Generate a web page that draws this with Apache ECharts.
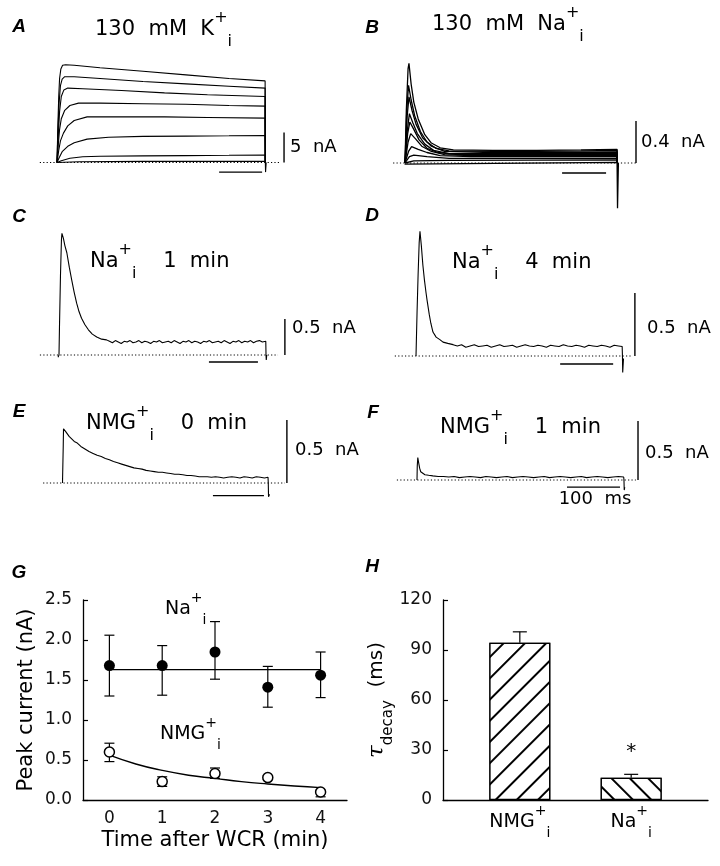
<!DOCTYPE html>
<html><head><meta charset="utf-8">
<script src="https://cdn.jsdelivr.net/npm/echarts@6/dist/echarts.min.js"></script>
<style>html,body{margin:0;padding:0;background:#fff}#c{width:720px;height:866px}</style>
</head><body><div id="c"></div><script>
const FONT = "'DejaVu Sans', 'Liberation Sans', sans-serif";

// ---------------- DATA (time in ms, current in nA) ----------------
// Panel A: 130 mM K+i, family of outward currents
const traceA1 = [[0,0],[2,6],[4,11],[6,14],[9,15.6],[13,16.2],[20,16.3],[40,16.2],[100,15.8],[200,15.2],[300,14.6],[400,14.0],[484,13.6],[484.5,0],[485,-1.6],[486.5,0]];
const traceA2 = [[0,0],[2,5],[5,10],[8,12.8],[12,13.9],[18,14.3],[40,14.3],[100,14.0],[200,13.5],[300,13.1],[400,12.7],[484,12.4],[484.5,0]];
const traceA3 = [[0,0],[3,4.5],[6,8.5],[10,11],[16,12.1],[25,12.4],[60,12.3],[150,12.0],[250,11.6],[350,11.3],[484,11.0],[484.5,0]];
const traceA4 = [[0,0],[3,3],[6,5.5],[10,7.3],[18,8.7],[30,9.5],[50,9.9],[100,9.9],[200,9.8],[300,9.7],[400,9.5],[484,9.4],[484.5,0]];
const traceA5 = [[0,0],[4,2],[8,3.6],[15,4.9],[25,6.1],[40,7.0],[70,7.6],[150,7.6],[250,7.6],[350,7.5],[484,7.4],[484.5,0]];
const traceA6 = [[0,0],[5,0.8],[12,1.8],[25,2.7],[40,3.3],[70,3.9],[120,4.2],[200,4.35],[300,4.4],[400,4.45],[484,4.5],[484.5,0]];
const traceA7 = [[0,0],[10,0.3],[30,0.7],[60,0.95],[100,1.05],[200,1.1],[300,1.15],[400,1.2],[484,1.25],[484.5,0]];
const traceA8 = [[0,0],[50,0.12],[200,0.18],[484,0.2],[484.5,0]];
const baselineA = [[-40,0],[519,0]];
const scaleVA = [[528,0],[528,5]];
const scaleHA = [[377,-1.6],[477,-1.6]];

// Panel B: 130 mM Na+i, family of transient currents
const traceB1 = [[0,0],[3,0.5],[7,0.9],[9,0.95],[14,0.75],[20,0.58],[30,0.42],[45,0.27],[60,0.19],[80,0.145],[110,0.125],[200,0.12],[300,0.12],[400,0.125],[482,0.13],[482.5,0]];
const traceB2 = [[0,0],[4,0.5],[8,0.74],[14,0.6],[22,0.45],[35,0.3],[50,0.2],[70,0.14],[100,0.115],[200,0.11],[300,0.11],[400,0.115],[482,0.12],[482.5,0]];
const traceB3 = [[0,0],[5,0.45],[9,0.63],[16,0.5],[25,0.37],[40,0.24],[60,0.16],[90,0.11],[200,0.1],[482,0.105],[482.5,0]];
const traceB4 = [[0,0],[5,0.3],[10,0.47],[18,0.38],[28,0.28],[45,0.18],[65,0.12],[100,0.09],[200,0.09],[482,0.095],[482.5,0]];
const traceB5 = [[0,0],[6,0.28],[11,0.39],[20,0.32],[32,0.22],[50,0.14],[75,0.1],[120,0.08],[482,0.085],[482.5,0]];
const traceB6 = [[0,0],[7,0.2],[13,0.28],[24,0.23],[38,0.16],[60,0.11],[90,0.08],[150,0.07],[482,0.075],[482.5,0]];
const traceB7 = [[0,0],[8,0.11],[15,0.155],[30,0.13],[50,0.1],[80,0.07],[150,0.06],[482,0.06],[482.5,0]];
const traceB8 = [[0,0],[10,0.06],[20,0.076],[50,0.06],[100,0.045],[482,0.045],[482.5,0]];
const traceB9 = [[0,0],[20,0.02],[100,0.025],[482,0.03],[482.5,0]];
const traceB10 = [[-1,-0.01],[0,0],[482,0.005],[482.5,0],[483,-0.43],[484.5,-0.43],[485,0]];
const baselineB = [[-27,0],[527,0]];
const scaleVB = [[525,0],[525,0.4]];
const scaleHB = [[357,-0.095],[457,-0.095]];

// Panel C: Na+i, 1 min
const traceC = [[-2,-0.03],[0,0],[1,0.4],[3,1.1],[5,1.6],[6,1.69],[9,1.62],[12,1.52],[16,1.42],[21,1.22],[26,1.04],[31,0.87],[36,0.72],[41,0.6],[46,0.51],[53,0.42],[60,0.35],[68,0.29],[77,0.25],[87,0.22],[97,0.21],[103,0.19],[109,0.17],[115,0.2],[121,0.18],[127,0.16],[133,0.19],[139,0.18],[145,0.2],[151,0.17],[157,0.18],[163,0.2],[169,0.17],[175,0.19],[181,0.18],[187,0.16],[193,0.19],[199,0.18],[205,0.2],[211,0.17],[217,0.18],[223,0.19],[229,0.17],[235,0.2],[241,0.18],[247,0.16],[253,0.19],[259,0.18],[265,0.2],[271,0.17],[277,0.19],[283,0.18],[289,0.16],[295,0.19],[301,0.18],[307,0.2],[313,0.17],[319,0.18],[325,0.19],[331,0.17],[337,0.2],[343,0.18],[349,0.16],[355,0.19],[361,0.18],[367,0.2],[373,0.17],[379,0.19],[385,0.18],[391,0.2],[397,0.17],[403,0.19],[409,0.2],[415,0.18],[422,0.19],[422.5,0],[423,-0.07],[424,0]];
const baselineC = [[-39,0],[447,0]];
const scaleVC = [[461,0],[461,0.5]];
const scaleHC = [[306,-0.097],[406,-0.097]];

// Panel D: Na+i, 4 min
const traceD = [[0,0],[2,0.35],[4,0.65],[6,0.9],[7.5,0.99],[10,0.88],[13,0.72],[16,0.6],[19,0.5],[21,0.44],[25,0.33],[28,0.26],[32,0.19],[38,0.15],[45,0.13],[51,0.11],[60,0.1],[70,0.09],[78,0.08],[86,0.09],[94,0.07],[102,0.08],[110,0.09],[118,0.075],[126,0.08],[134,0.085],[142,0.07],[150,0.08],[158,0.09],[166,0.075],[174,0.08],[182,0.085],[190,0.07],[198,0.08],[206,0.09],[214,0.08],[222,0.075],[230,0.085],[238,0.08],[246,0.07],[254,0.085],[262,0.08],[270,0.075],[278,0.09],[286,0.08],[294,0.075],[302,0.085],[310,0.08],[318,0.07],[326,0.085],[334,0.08],[342,0.075],[350,0.085],[358,0.08],[366,0.07],[374,0.085],[382,0.08],[389,0.075],[389.5,0],[390,-0.13],[391.5,-0.02]];
const baselineD = [[-40,0],[408,0]];
const scaleVD = [[413,0],[413,0.5]];
const scaleHD = [[272,-0.063],[372,-0.063]];

// Panel E: NMG+i, 0 min
const traceE = [[-1,0],[0,0],[0.5,0.3],[1,0.43],[3,0.43],[5,0.41],[8,0.4],[12,0.37],[17,0.35],[22,0.33],[27,0.32],[35,0.29],[43,0.27],[51,0.25],[59,0.235],[67,0.22],[75,0.21],[83,0.195],[91,0.185],[99,0.17],[107,0.16],[115,0.15],[123,0.14],[131,0.13],[139,0.12],[147,0.115],[155,0.11],[163,0.1],[171,0.095],[179,0.09],[187,0.085],[195,0.085],[203,0.08],[211,0.075],[219,0.07],[227,0.07],[235,0.065],[243,0.06],[251,0.06],[259,0.055],[267,0.05],[275,0.05],[283,0.05],[291,0.045],[299,0.05],[307,0.045],[315,0.04],[323,0.045],[331,0.05],[339,0.045],[347,0.04],[355,0.05],[363,0.045],[371,0.04],[379,0.05],[387,0.045],[395,0.04],[402,0.045],[402.5,0],[403,-0.11],[405,-0.09]];
const baselineE = [[-39,0],[435,0]];
const scaleVE = [[439,0],[439,0.5]];
const scaleHE = [[294,-0.1],[394,-0.1]];

// Panel F: NMG+i, 1 min
const traceF = [[0,0],[0.5,0.12],[1.5,0.19],[3,0.15],[5,0.1],[7,0.07],[10,0.055],[15,0.045],[22,0.04],[30,0.035],[40,0.03],[50,0.03],[60,0.025],[70,0.03],[80,0.02],[90,0.025],[100,0.03],[110,0.025],[120,0.02],[130,0.03],[140,0.025],[150,0.02],[160,0.025],[170,0.03],[180,0.02],[190,0.025],[200,0.03],[210,0.025],[220,0.02],[230,0.025],[240,0.03],[250,0.02],[260,0.025],[270,0.03],[280,0.025],[290,0.02],[300,0.025],[310,0.03],[320,0.02],[330,0.025],[340,0.03],[350,0.025],[360,0.02],[370,0.025],[380,0.03],[390,0.025],[390.5,0],[391,-0.085],[392,-0.06]];
const baselineF = [[-38,0],[413,0]];
const scaleVF = [[417,0],[417,0.5]];
const scaleHF = [[283,-0.06],[383,-0.06]];

// Panel G: peak current vs time after whole-cell recording
const gTimes = [0,1,2,3,4];
const naPeak = [1.68,1.68,1.85,1.41,1.56];
const naLow  = [1.30,1.31,1.51,1.16,1.28];
const naHigh = [2.06,1.93,2.23,1.67,1.85];
const nmgPeak = [0.60,0.23,0.33,0.28,0.10];
const nmgLow  = [0.48,0.17,0.27,0.26,0.04];
const nmgHigh = [0.71,0.29,0.40,0.30,0.12];
const naFitT = [0,4];
const naFitY = [1.63,1.63];
const nmgFitT = [0,0.5,1,1.5,2,2.5,3,3.5,4];
const nmgFitY = [0.56,0.45,0.37,0.31,0.27,0.23,0.20,0.175,0.155];

// Panel H: decay time constants
const hPositions = [1,2];
const hCategories = ['NMG','Na'];
const tauMean = [94.4,13.4];
const tauErrTop = [100.9,15.4];
const tauSig = ['','*'];

// ---------------- LAYOUT ----------------
const PANELS = [
  {name:'A',x0:57, k:0.43,y0:162.5,m:6,  l:36, t:50, r:294,b:215},
  {name:'B',x0:405,k:0.44,y0:163,  m:105,l:388,t:50, r:645,b:215},
  {name:'C',x0:59, k:0.49,y0:355,  m:72, l:36, t:225,r:292,b:372},
  {name:'D',x0:416,k:0.53,y0:356,  m:126,l:390,t:222,r:645,b:380},
  {name:'E',x0:63, k:0.51,y0:483,  m:126,l:38, t:405,r:292,b:505},
  {name:'F',x0:417,k:0.53,y0:480,  m:118,l:392,t:405,r:645,b:500}
];
const panelTraces = [
  [traceA1,traceA2,traceA3,traceA4,traceA5,traceA6,traceA7,traceA8],
  [traceB1,traceB2,traceB3,traceB4,traceB5,traceB6,traceB7,traceB8,traceB9,traceB10],
  [traceC],[traceD],[traceE],[traceF]
];
const panelBase = [baselineA,baselineB,baselineC,baselineD,baselineE,baselineF];
const panelScaleV = [scaleVA,scaleVB,scaleVC,scaleVD,scaleVE,scaleVF];
const panelScaleH = [scaleHA,scaleHB,scaleHC,scaleHD,scaleHE,scaleHF];

const grids = [], xAxes = [], yAxes = [], series = [];
PANELS.forEach((p,i)=>{
  grids.push({left:p.l, top:p.t, width:p.r-p.l, height:p.b-p.t, outerBoundsMode:'none'});
  xAxes.push({type:'value', gridIndex:i, show:false, min:(p.l-p.x0)/p.k, max:(p.r-p.x0)/p.k});
  yAxes.push({type:'value', gridIndex:i, show:false, min:(p.y0-p.b)/p.m, max:(p.y0-p.t)/p.m});
  const ls = (data, w, type, z) => ({type:'line', xAxisIndex:i, yAxisIndex:i, data, symbol:'none', showSymbol:false,
      lineStyle:{color:'#000', width:w, type:type||'solid', opacity:1}, z:z||2, animation:false, silent:true});
  series.push(ls(panelBase[i], 1, [1.2,2.2], 1));
  panelTraces[i].forEach(tr=>series.push(ls(tr, i===1?1.3:1.1)));
  series.push(ls(panelScaleV[i], 1.4));
  series.push(ls(panelScaleH[i], 1.4));
});

// Panel G grid (index 6) and H grid (index 7)
grids.push({left:83, top:600, width:264, height:200, outerBoundsMode:'none'});
grids.push({left:443, top:600, width:265, height:200, outerBoundsMode:'none'});

const axisLine = {show:true, onZero:false, lineStyle:{color:'#000', width:1.3}};
const tickLbl = {color:'#111', fontSize:17, fontFamily:FONT};
const rich = (s)=>({
  t:{fontSize:s, fontFamily:FONT, color:'#000', verticalAlign:'middle', lineHeight:Math.round(s*1.9)},
  tau:{fontSize:Math.round(s*1.15), fontFamily:"'DejaVu Serif', serif", fontStyle:'italic', color:'#000', verticalAlign:'middle', lineHeight:Math.round(s*1.9)},
  sup:{fontSize:Math.round(s*0.75), fontFamily:FONT, color:'#000', verticalAlign:'top', lineHeight:Math.round(s*0.8)},
  sub:{fontSize:Math.round(s*0.75), fontFamily:FONT, color:'#000', verticalAlign:'bottom', lineHeight:Math.round(s*0.8)}
});

xAxes.push({type:'value', gridIndex:6, min:-0.5, max:4.5,
  name:'Time after WCR (min)', nameLocation:'middle', nameGap:30,
  nameTextStyle:{fontSize:21, fontFamily:FONT, color:'#000'},
  axisLine, axisTick:{show:false}, splitLine:{show:false},
  axisLabel:Object.assign({margin:10, customValues:gTimes, formatter:v=>String(v)}, tickLbl)});
yAxes.push({type:'value', gridIndex:6, min:0, max:2.5, interval:0.5,
  name:'Peak current (nA)', nameLocation:'middle', nameGap:46, nameRotate:90,
  nameTextStyle:{fontSize:21, fontFamily:FONT, color:'#000'},
  axisLine, axisTick:{show:true, inside:true, length:5, lineStyle:{color:'#000', width:1.2}}, splitLine:{show:false},
  axisLabel:Object.assign({margin:11, formatter:v=>v.toFixed(1)}, tickLbl)});

xAxes.push({type:'value', gridIndex:7, min:0.31, max:2.69,
  axisLine, axisTick:{show:false}, splitLine:{show:false},
  axisLabel:{margin:4, customValues:hPositions, rich:rich(19),
    formatter:v=>{const c=hCategories[hPositions.indexOf(Math.round(v))]; return c?'{t|'+c+'}{sup|+}{sub|i}':'';}}});
yAxes.push({type:'value', gridIndex:7, min:0, max:120, interval:30,
  name:'{tau|τ}{sub|decay}{t|  (ms)}', nameLocation:'middle', nameGap:36, nameRotate:90,
  nameTextStyle:{rich:rich(20)},
  axisLine, axisTick:{show:true, inside:true, length:5, lineStyle:{color:'#000', width:1.2}}, splitLine:{show:false},
  axisLabel:Object.assign({margin:11}, tickLbl)});

function errRender(lineColor, capHalf, both){
  return function(params, api){
    const x = api.value(0), lo = api.value(1), hi = api.value(2), idx = params.dataIndex;
    const a = api.coord([x, lo]), b = api.coord([x, hi]);
    const st = {stroke:lineColor, lineWidth:1.2};
    const ch = [
      {type:'line', shape:{x1:a[0],y1:a[1],x2:b[0],y2:b[1]}, style:st},
      {type:'line', shape:{x1:b[0]-capHalf,y1:b[1],x2:b[0]+capHalf,y2:b[1]}, style:st}
    ];
    if (both) ch.push({type:'line', shape:{x1:a[0]-capHalf,y1:a[1],x2:a[0]+capHalf,y2:a[1]}, style:st});
    if (!both && tauSig[idx]) ch.push({type:'text', x:b[0], y:b[1]-23, style:{text:tauSig[idx], font:'20px '+FONT, fill:'#000', textAlign:'center', textVerticalAlign:'middle'}});
    return {type:'group', children:ch};
  };
}

// G series
series.push({type:'line', xAxisIndex:6, yAxisIndex:6, data:naFitT.map((t,i)=>[t,naFitY[i]]), symbol:'none', lineStyle:{color:'#000', width:1.4}, z:2, animation:false});
series.push({type:'line', xAxisIndex:6, yAxisIndex:6, data:nmgFitT.map((t,i)=>[t,nmgFitY[i]]), smooth:true, symbol:'none', lineStyle:{color:'#000', width:1.4}, z:2, animation:false});
series.push({type:'custom', xAxisIndex:6, yAxisIndex:6, data:gTimes.map((t,i)=>[t,naLow[i],naHigh[i]]), renderItem:errRender('#000',5,true), z:3, animation:false});
series.push({type:'custom', xAxisIndex:6, yAxisIndex:6, data:gTimes.map((t,i)=>[t,nmgLow[i],nmgHigh[i]]), renderItem:errRender('#000',5,true), z:3, animation:false});
series.push({type:'scatter', xAxisIndex:6, yAxisIndex:6, data:gTimes.map((t,i)=>[t,naPeak[i]]), symbol:'circle', symbolSize:11, itemStyle:{color:'#000', opacity:1}, z:5, animation:false});
series.push({type:'scatter', xAxisIndex:6, yAxisIndex:6, data:gTimes.map((t,i)=>[t,nmgPeak[i]]), symbol:'circle', symbolSize:10, itemStyle:{color:'#fff', borderColor:'#000', borderWidth:1.5, opacity:1}, z:5, animation:false});

// H series
const decalF = {symbol:'rect', symbolSize:1, color:'#000', backgroundColor:'#fff', dashArrayX:[1,0], dashArrayY:[1.6,12.4], rotation:-Math.PI/4};
const decalB = {symbol:'rect', symbolSize:1, color:'#000', backgroundColor:'#fff', dashArrayX:[1,0], dashArrayY:[1.6,10.4], rotation:Math.PI/4};
series.push({type:'bar', xAxisIndex:7, yAxisIndex:7, barWidth:61,
  data:hPositions.map((x,i)=>({value:[x,tauMean[i]], itemStyle:{color:'#fff', borderColor:'#000', borderWidth:1.3, decal:i===0?decalF:decalB}})),
  z:2, animation:false});
series.push({type:'custom', xAxisIndex:7, yAxisIndex:7, data:hPositions.map((x,i)=>[x,tauMean[i],tauErrTop[i]]), renderItem:errRender('#000',7,false), z:3, animation:false});

// ---------------- TEXT ----------------
function txt(x, y, text, size, align, extra){
  return Object.assign({type:'text', x, y, silent:true,
    style:{text, font:size+'px '+FONT, fill:'#000', textAlign:align||'left', textVerticalAlign:'middle', rich:rich(size)}}, extra||{});
}
function letter(x, y, s){
  return {type:'text', x, y, silent:true, style:{text:s, font:'italic bold 19px "Liberation Sans", sans-serif', fill:'#000', textAlign:'center', textVerticalAlign:'middle'}};
}
const graphics = [
  letter(19,27,'A'), letter(372,28,'B'), letter(19,217,'C'), letter(372,216,'D'),
  letter(19,412,'E'), letter(373,413,'F'), letter(19,573,'G'), letter(372,567,'H'),
  txt(95,30,'{t|130  mM  K}{sup|+}{sub|i}',21),
  txt(432,25,'{t|130  mM  Na}{sup|+}{sub|i}',21),
  txt(90,262,'{t|Na}{sup|+}{sub|i}{t|    1  min}',21),
  txt(452,263,'{t|Na}{sup|+}{sub|i}{t|    4  min}',21),
  txt(86,424,'{t|NMG}{sup|+}{sub|i}{t|    0  min}',21),
  txt(440,428,'{t|NMG}{sup|+}{sub|i}{t|    1  min}',21),
  txt(290,147,'{t|5  nA}',18),
  txt(641,142,'{t|0.4  nA}',18),
  txt(292,328,'{t|0.5  nA}',18),
  txt(647,328,'{t|0.5  nA}',18),
  txt(295,450,'{t|0.5  nA}',18),
  txt(645,453,'{t|0.5  nA}',18),
  txt(595,499,'{t|100  ms}',18,'center'),
  txt(165,609,'{t|Na}{sup|+}{sub|i}',19),
  txt(160,734,'{t|NMG}{sup|+}{sub|i}',19)
];

const chart = echarts.init(document.getElementById('c'), null, {renderer:'canvas'});
chart.setOption({
  animation:false, backgroundColor:'#fff',
  grid:grids, xAxis:xAxes, yAxis:yAxes, series, graphic:graphics
});
</script></body></html>
